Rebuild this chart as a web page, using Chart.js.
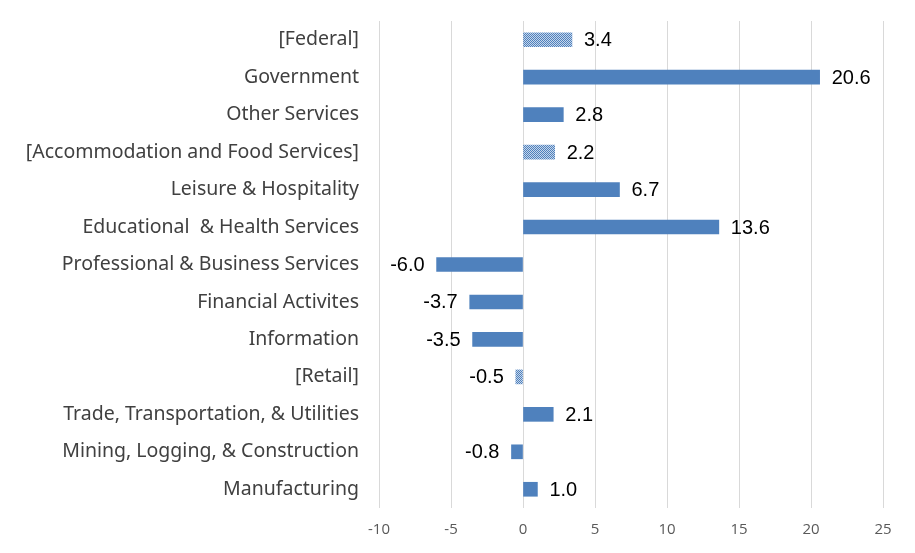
<!DOCTYPE html>
<html>
<head>
<meta charset="utf-8">
<script src="https://cdn.jsdelivr.net/npm/chart.js@4/dist/chart.umd.min.js"></script>
<style>
  html, body { margin: 0; padding: 0; background: #fff; }
  #wrap { width: 915px; height: 553px; }
</style>
</head>
<body>
<div id="wrap"><canvas id="jobChart"></canvas></div>
<script>
var categories = [
  '[Federal]',
  'Government',
  'Other Services',
  '[Accommodation and Food Services]',
  'Leisure & Hospitality',
  'Educational  & Health Services',
  'Professional & Business Services',
  'Financial Activites',
  'Information',
  '[Retail]',
  'Trade, Transportation, & Utilities',
  'Mining, Logging, & Construction',
  'Manufacturing'
];
var values = [3.4, 20.6, 2.8, 2.2, 6.7, 13.6, -6.0, -3.7, -3.5, -0.5, 2.1, -0.8, 1.0];
// sub-sectors in brackets get the dotted fill
var isSubSector = [true, false, false, true, false, false, false, false, false, true, false, false, false];
var xTicks = [-10, -5, 0, 5, 10, 15, 20, 25];

var blue = '#4f81bd';

function makeDots() {
	var c = document.createElement('canvas');
	c.width = 2; c.height = 2;
	var g = c.getContext('2d');
	g.fillStyle = '#c6d6ea';
	g.fillRect(0, 0, 2, 2);
	g.fillStyle = '#4f81bd';
	g.fillRect(0, 0, 1, 1);
	g.fillRect(1, 1, 1, 1);
	return g.createPattern(c, 'repeat');
}
var dots = makeDots();

var barColors = [];
for (var i = 0; i < values.length; i++) {
	barColors[i] = isSubSector[i] ? dots : blue;
}

var valueLabels = {
	id: 'valueLabels',
	afterDatasetsDraw: function(chart) {
		var ctx = chart.ctx;
		var meta = chart.getDatasetMeta(0);
		ctx.save();
		ctx.font = '20px "Liberation Sans", Arial, sans-serif';
		ctx.fillStyle = '#000';
		ctx.textBaseline = 'middle';
		meta.data.forEach(function(bar, i) {
			var v = values[i];
			var txt = v.toFixed(1);
			if (v >= 0) {
				ctx.textAlign = 'left';
				ctx.fillText(txt, bar.x + 12, bar.y + 1);
			} else {
				ctx.textAlign = 'right';
				ctx.fillText(txt, bar.x - 12, bar.y + 1);
			}
		});
		ctx.restore();
	}
};

var jobChart = new Chart(document.getElementById('jobChart'), {
	type: 'bar',
	data: {
		labels: categories,
		datasets: [{
			data: values,
			backgroundColor: barColors,
			borderWidth: 0,
			barThickness: 14
		}]
	},
	options: {
		indexAxis: 'y',
		responsive: true,
		maintainAspectRatio: false,
		animation: false,
		layout: { padding: { top: 21, right: 32, left: 0, bottom: 0 } },
		plugins: {
			legend: { display: false },
			tooltip: { enabled: false }
		},
		scales: {
			x: {
				min: -10,
				max: 25,
				afterBuildTicks: function(scale) {
					scale.ticks = xTicks.map(function(v) { return { value: v }; });
				},
				afterFit: function(scale) {
					scale.height = 45;
					scale.paddingLeft = 0;
					scale.paddingRight = 0;
				},
				grid: { color: '#d9d9d9', lineWidth: 1, drawTicks: false },
				border: { display: false },
				ticks: {
					padding: 13,
					color: '#595959',
					font: { family: '"Open Sans", sans-serif', size: 15 }
				}
			},
			y: {
				afterFit: function(scale) {
					scale.width = 379;
					scale.paddingTop = 0;
					scale.paddingBottom = 0;
				},
				grid: { display: false, drawTicks: false },
				border: { display: false },
				ticks: {
					padding: 20,
					color: '#404040',
					autoSkip: false,
					font: { family: '"Noto Sans", sans-serif', size: 19.5 }
				}
			}
		}
	},
	plugins: [valueLabels]
});
</script>
</body>
</html>
